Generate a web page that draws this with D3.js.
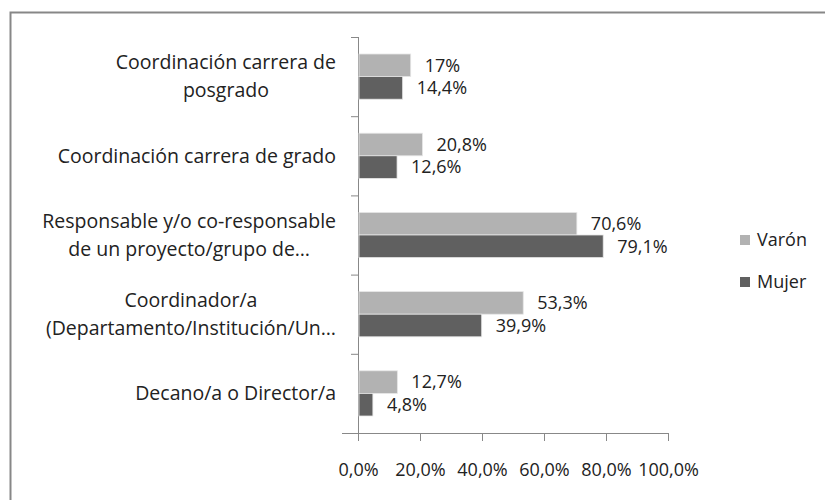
<!DOCTYPE html>
<html>
<head>
<meta charset="utf-8">
<script src="https://cdn.jsdelivr.net/npm/d3@7"></script>
<style>
  body { margin: 0; background: #fff; }
  text { font-family: "Open Sans", sans-serif; fill: #222; }
</style>
</head>
<body>
<div id="myChart"></div>
<script>
// data
let categories = [
  ["Coordinación carrera de", "posgrado"],
  ["Coordinación carrera de grado"],
  ["Responsable y/o co-responsable", "de un proyecto/grupo de…"],
  ["Coordinador/a", "(Departamento/Institución/Un…"],
  ["Decano/a o Director/a"]
];
let series = ["Varón", "Mujer"];
let varon = [17, 20.8, 70.6, 53.3, 12.7];
let mujer = [14.4, 12.6, 79.1, 39.9, 4.8];
let ticks = [0, 20, 40, 60, 80, 100];
let colors = ["#b2b2b2", "#606060"];

let W = 825, H = 500;
let margin = {top: 37, right: 157, bottom: 67, left: 358},
    width = W - margin.left - margin.right,
    height = H - margin.top - margin.bottom;

let svg = d3.select("#myChart")
  .append("svg")
    .attr("width", W)
    .attr("height", H);

// chart frame (bottom and right edges are outside the picture)
svg.append("path")
  .attr("d", "M10.5,500 L10.5,12.5 L825,12.5")
  .attr("fill", "none")
  .attr("stroke", "#878787")
  .attr("stroke-width", 2);

let g = svg.append("g")
  .attr("transform", "translate(" + margin.left + "," + margin.top + ")");

let fmt = v => String(v).replace(".", ",") + "%";

// X axis
let x = d3.scaleLinear()
  .domain([0, 100])
  .range([0, 310]);

// Y axis (categories)
let y = d3.scaleBand()
  .domain(d3.range(categories.length))
  .range([0, height]);

let y1 = d3.scaleBand()
  .domain(series)
  .range([17, y.bandwidth() - 17]);

let xAxis = g.append("g")
  .attr("transform", "translate(0," + height + ")")
  .call(d3.axisBottom(x).tickValues(ticks).tickSize(8).tickFormat(d => d.toFixed(1).replace(".", ",") + "%"));
xAxis.select(".domain").attr("d", "M-16,0.5H" + x(100));
xAxis.selectAll(".tick line").attr("stroke", "#888");
xAxis.selectAll(".tick text").attr("dy", "1.75em").style("font-size", "18px").style("fill", "#222");

// category axis line and ticks
let yAxis = g.append("g");
yAxis.append("line")
  .attr("x1", 0.5).attr("x2", 0.5)
  .attr("y1", 0).attr("y2", height + 8)
  .attr("stroke", "#888");
yAxis.selectAll(".ct")
  .data(d3.range(categories.length))
  .enter().append("line")
    .attr("x1", -7).attr("x2", 0)
    .attr("y1", d => y(d) + 0.5)
    .attr("y2", d => y(d) + 0.5)
    .attr("stroke", "#888");
g.select(".domain").attr("stroke", "#888");

// category labels: lines centred inside a block that is right aligned
let labelRight = -22, lineH = 28;
categories.forEach(function (lines, i) {
  let t = g.append("text")
    .style("font-size", "19.5px")
    .attr("text-anchor", "middle");
  let spans = lines.map(function (s, j) {
    return t.append("tspan")
      .attr("y", y(i) + y.bandwidth() / 2 + (j - (lines.length - 1) / 2) * lineH)
      .attr("dy", "0.35em")
      .text(s);
  });
  let bw = d3.max(spans, s => s.node().getComputedTextLength());
  spans.forEach(s => s.attr("x", labelRight - bw / 2));
});

// bars
let data = [];
categories.forEach(function (c, i) {
  data.push({cat: i, s: "Varón", v: varon[i], c: colors[0]});
  data.push({cat: i, s: "Mujer", v: mujer[i], c: colors[1]});
});

g.selectAll(".bar")
  .data(data)
  .enter()
  .append("rect")
    .attr("x", 1)
    .attr("y", d => y(d.cat) + y1(d.s))
    .attr("width", d => x(d.v) - 1)
    .attr("height", y1.bandwidth())
    .attr("fill", d => d.c)
    .attr("stroke", "#e6e6e6")
    .attr("stroke-width", 0.8);

g.selectAll(".val")
  .data(data)
  .enter()
  .append("text")
    .attr("x", d => x(d.v) + 14)
    .attr("y", d => y(d.cat) + y1(d.s) + y1.bandwidth() / 2)
    .attr("dy", "0.35em")
    .style("font-size", "18px")
    .text(d => fmt(d.v));

// legend
let legend = svg.append("g").attr("transform", "translate(740,240)");
series.forEach(function (s, i) {
  legend.append("rect")
    .attr("x", 0).attr("y", i * 42 - 5)
    .attr("width", 10).attr("height", 10)
    .attr("fill", colors[i]);
  legend.append("text")
    .attr("x", 17).attr("y", i * 42)
    .attr("dy", "0.35em")
    .style("font-size", "18px")
    .text(s);
});
</script>
</body>
</html>
